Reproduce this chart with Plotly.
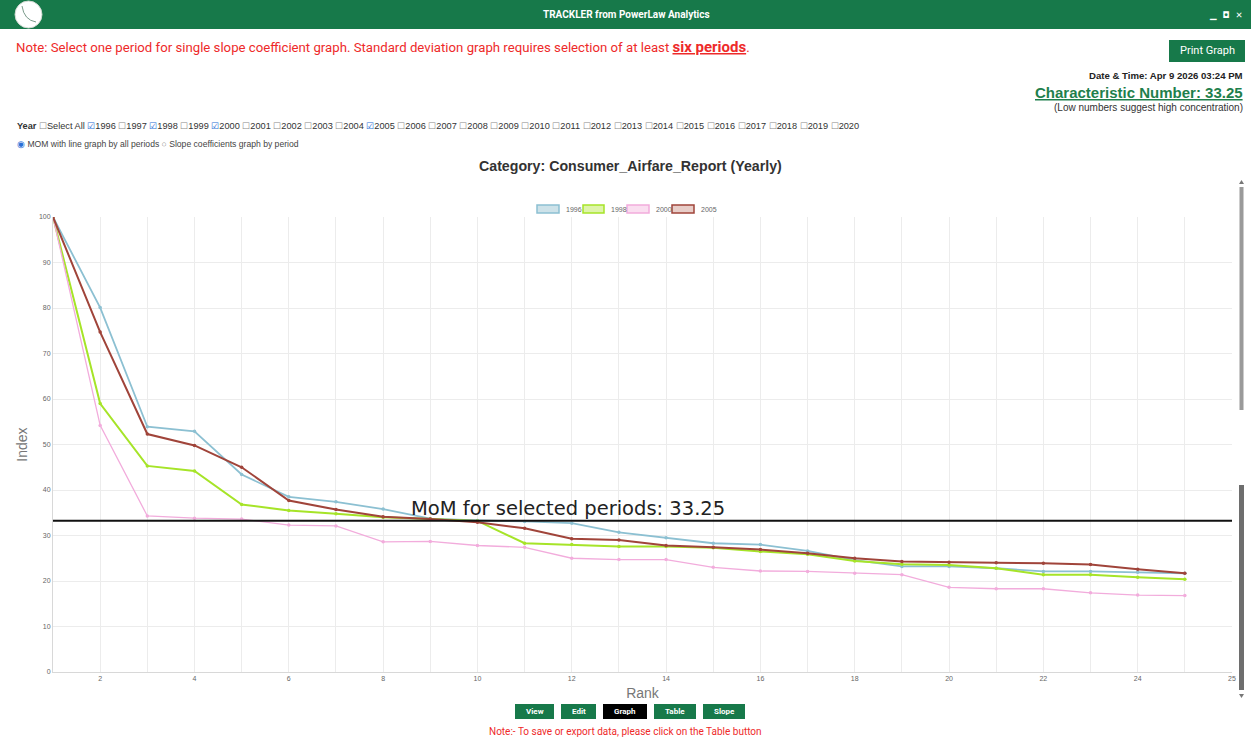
import plotly.graph_objects as go

# ---------------- data ----------------
ranks = list(range(1, 26))
series_names = ["1996", "1998", "2000", "2005"]
y1996 = [100, 80.1, 53.9, 52.9, 43.4, 38.5, 37.4, 35.8, 33.7, 33.3, 33.1, 32.7, 30.7,
         29.5, 28.3, 28.0, 26.6, 24.6, 23.2, 23.2, 22.8, 22.1, 22.1, 21.9, 21.7]
y1998 = [100, 59.0, 45.3, 44.2, 36.8, 35.5, 34.8, 34.0, 33.6, 33.2, 28.3, 28.0, 27.6,
         27.6, 27.3, 26.5, 25.9, 24.4, 23.7, 23.5, 22.8, 21.4, 21.4, 20.8, 20.4]
y2000 = [100, 54.2, 34.3, 33.8, 33.6, 32.3, 32.1, 28.6, 28.7, 27.8, 27.4, 25.0, 24.7,
         24.7, 23.0, 22.2, 22.1, 21.7, 21.4, 18.6, 18.3, 18.3, 17.4, 16.9, 16.8]
y2005 = [100, 74.7, 52.3, 49.8, 45.0, 37.7, 35.7, 34.1, 33.6, 32.9, 31.6, 29.3, 29.0,
         27.8, 27.4, 26.9, 26.1, 25.0, 24.3, 24.1, 24.0, 23.9, 23.6, 22.6, 21.7]
mom_value = 33.25
x_tickvals = [2, 4, 6, 8, 10, 12, 14, 16, 18, 20, 22, 24, 26]
x_ticktext = ["2", "4", "6", "8", "10", "12", "14", "16", "18", "20", "22", "24", "25"]
y_tickvals = [0, 10, 20, 30, 40, 50, 60, 70, 80, 90, 100]
all_years = list(range(1996, 2021))
checked_years = [1996, 1998, 2000, 2005]

# ---------------- styles ----------------
colors = {"1996": "rgb(140,192,210)", "1998": "rgb(166,228,40)",
          "2000": "rgb(242,172,220)", "2005": "rgb(160,68,58)"}
fills = {"1996": "rgb(205,226,233)", "1998": "rgb(222,244,170)",
         "2000": "rgb(250,222,240)", "2005": "rgb(232,205,200)"}
widths = {"1996": 1.8, "1998": 2, "2000": 1.3, "2005": 2}
values = {"1996": y1996, "1998": y1998, "2000": y2000, "2005": y2005}

W_FIG, H_FIG = 1251, 740
L, R, T, B = 53, 19, 217, 68
PW = W_FIG - L - R
PH = H_FIG - T - B


def px(x):
    return (x - L) / PW


def py(y):
    return (H_FIG - B - y) / PH


def note(x, y, text, size, color, family="Liberation Sans", xa="center", ya="middle"):
    return dict(xref="paper", yref="paper", x=px(x), y=py(y), xanchor=xa, yanchor=ya,
                text=text, showarrow=False, font=dict(family=family, size=size, color=color))


fig = go.Figure()
for name in series_names:
    fig.add_trace(go.Scatter(
        x=ranks, y=values[name], mode="lines+markers", name=name,
        line=dict(color=colors[name], width=widths[name]),
        marker=dict(color=colors[name], size=3.5),
        showlegend=False))

shapes = []
annotations = []

# MoM line
shapes.append(dict(type="line", xref="paper", yref="y", x0=0, x1=1,
                   y0=mom_value, y1=mom_value, line=dict(color="#111", width=2)))
annotations.append(dict(xref="paper", yref="y", x=px(568), y=mom_value,
                        yanchor="bottom", xanchor="center", yshift=-1,
                        text=f"MoM for selected periods: {mom_value}", showarrow=False,
                        font=dict(family="DejaVu Sans", size=19.5, color="#222")))

# Custom legend (boxes)
leg_boxes = [(537, 559), (583, 604), (627, 649), (672, 694)]
for name, (x0, x1) in zip(series_names, leg_boxes):
    shapes.append(dict(type="rect", xref="paper", yref="paper",
                       x0=px(x0), x1=px(x1), y0=py(213), y1=py(205),
                       fillcolor=fills[name], line=dict(color=colors[name], width=1.5)))
    annotations.append(note(x1 + 5, 209, name, 7, "#666", xa="left"))

# Header bar
shapes.append(dict(type="rect", xref="paper", yref="paper", x0=px(0), x1=px(W_FIG),
                   y0=py(29), y1=py(0), fillcolor="#17794a", line=dict(width=0), layer="below"))
shapes.append(dict(type="circle", xref="paper", yref="paper", x0=px(15), x1=px(42),
                   y0=py(28), y1=py(1), fillcolor="#ffffff", line=dict(color="#cfd8d0", width=1)))
shapes.append(dict(type="path", xref="paper", yref="paper",
                   path=f"M {px(22)},{py(6)} Q {px(24)},{py(20)} {px(36)},{py(22)}",
                   line=dict(color="#7a9a8a", width=1)))
annotations.append(note(626, 14, "<b>TRACKLER from PowerLaw Analytics</b>", 10, "white", family="Roboto"))
annotations.append(note(1245, 15, "<b>▁  ◘  ✕</b>", 8.5, "white", family="DejaVu Sans", xa="right"))

# Red note at top
annotations.append(note(14, 47,
                        "Note: Select one period for single slope coefficient graph. Standard deviation graph requires selection of at least "
                        "<span style='font-size:15px;text-decoration:underline'><b>six periods</b></span>.",
                        13.2, "#ee2a2a", family="Roboto", xa="left"))

# Print Graph button
shapes.append(dict(type="rect", xref="paper", yref="paper", x0=px(1169), x1=px(1245),
                   y0=py(62), y1=py(40), fillcolor="#17794a", line=dict(width=0)))
annotations.append(note(1207, 51, "Print Graph", 11, "white", family="Roboto"))
annotations.append(note(1245, 75, "<b>Date & Time: Apr 9 2026 03:24 PM</b>", 9.6, "#222", xa="right"))
annotations.append(note(1245, 92,
                        f"<b><span style='text-decoration:underline'>Characteristic Number: {mom_value}</span></b>",
                        15, "#1f7f4c", xa="right"))
annotations.append(note(1245, 108, "(Low numbers suggest high concentration)", 10, "#333", xa="right"))

# Year checkbox row
parts = ["<b>Year</b> <span style='color:#888'>☐</span>Select All"]
for yr in all_years:
    if yr in checked_years:
        parts.append(f"<span style='color:#2a6fd6'>☑</span>{yr}")
    else:
        parts.append(f"<span style='color:#888'>☐</span>{yr}")
annotations.append(note(15, 126, " ".join(parts), 9.2, "#333", xa="left"))
annotations.append(note(15, 144,
                        "<span style='color:#2a6fd6'>◉</span> MOM with line graph by all periods "
                        "<span style='color:#888'>○</span> Slope coefficients graph by period",
                        8.6, "#444", xa="left"))

# Chart title
annotations.append(note(630, 166, "<b>Category: Consumer_Airfare_Report (Yearly)</b>", 14.2, "#333"))

# Bottom buttons
buttons = [("View", 515, 554, "#17794a"), ("Edit", 561, 596, "#17794a"), ("Graph", 603, 647, "#000000"),
           ("Table", 654, 696, "#17794a"), ("Slope", 703, 745, "#17794a")]
for label, x0, x1, c in buttons:
    shapes.append(dict(type="rect", xref="paper", yref="paper", x0=px(x0), x1=px(x1),
                       y0=py(719), y1=py(704), fillcolor=c, line=dict(width=0)))
    annotations.append(note((x0 + x1) / 2, 711.5, f"<b>{label}</b>", 8, "white", family="Roboto"))
annotations.append(note(625, 731, "Note:- To save or export data, please click on the Table button",
                        10, "#ee2a2a", family="Roboto"))

# Scrollbar
shapes.append(dict(type="line", xref="paper", yref="paper", x0=px(1241.5), x1=px(1241.5),
                   y0=py(410), y1=py(187), line=dict(color="#9a9a9a", width=4)))
shapes.append(dict(type="line", xref="paper", yref="paper", x0=px(1241.5), x1=px(1241.5),
                   y0=py(690), y1=py(485), line=dict(color="#6e6e6e", width=5)))
shapes.append(dict(type="path", xref="paper", yref="paper",
                   path=f"M {px(1239)},{py(184)} L {px(1244)},{py(184)} L {px(1241.5)},{py(180)} Z",
                   fillcolor="#777", line=dict(width=0)))
shapes.append(dict(type="path", xref="paper", yref="paper",
                   path=f"M {px(1239)},{py(694)} L {px(1244)},{py(694)} L {px(1241.5)},{py(698)} Z",
                   fillcolor="#777", line=dict(width=0)))

fig.update_layout(
    width=W_FIG, height=H_FIG,
    margin=dict(l=L, r=R, t=T, b=B, pad=0),
    paper_bgcolor="white", plot_bgcolor="white",
    shapes=shapes, annotations=annotations,
    showlegend=False,
    xaxis=dict(range=[1, 26], tickvals=x_tickvals, ticktext=x_ticktext,
               showgrid=True, gridcolor="#ececec", gridwidth=1,
               minor=dict(dtick=1, tick0=1, showgrid=True, gridcolor="#ececec", gridwidth=1),
               zeroline=False, showline=True, linecolor="#d8d8d8", ticks="",
               tickfont=dict(family="Liberation Sans", size=7, color="#666"),
               title=dict(text="Rank", font=dict(family="Liberation Sans", size=14, color="#777"), standoff=6)),
    yaxis=dict(range=[0, 100], tickvals=y_tickvals,
               showgrid=True, gridcolor="#ececec", gridwidth=1, zeroline=False,
               showline=True, linecolor="#d8d8d8", ticks="",
               tickfont=dict(family="Liberation Sans", size=7, color="#666"),
               title=dict(text="Index", font=dict(family="Liberation Sans", size=14, color="#777"), standoff=8)),
)

fig.write_html("out.html", config={"displayModeBar": False},
               post_script="document.body.style.margin='0';document.body.style.overflow='hidden';")
